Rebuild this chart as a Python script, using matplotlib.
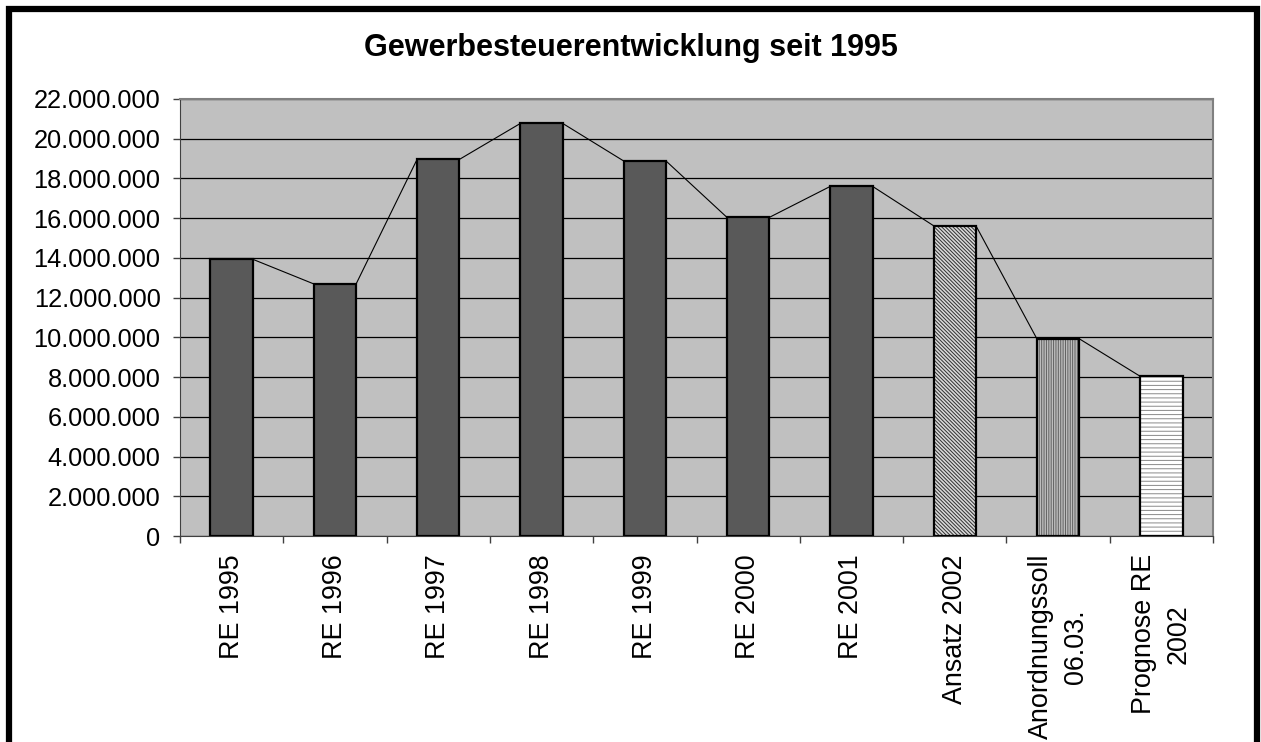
import numpy as np
import matplotlib
matplotlib.use('Agg')
import matplotlib.pyplot as plt
from matplotlib.patches import Rectangle
from matplotlib.ticker import FuncFormatter, MultipleLocator

plt.rcParams['font.family'] = ['Liberation Sans', 'DejaVu Sans']

# data
labels = ['RE 1995', 'RE 1996', 'RE 1997', 'RE 1998', 'RE 1999', 'RE 2000',
          'RE 2001', 'Ansatz 2002', 'Anordnungssoll\n06.03.', 'Prognose RE\n2002']
values = [13930000, 12690000, 18960000, 20770000, 18880000, 16040000,
          17600000, 15620000, 9930000, 8040000]

# fill style per bar: (facecolor, hatch, hatch colour)
styles = [('#595959', None, None)] * 7 + [
    ('#d8d8d8', '\\\\\\\\\\\\\\\\\\', '#303030'),
    ('#bdbdbd', '|||||||', '#606060'),
    ('#ffffff', '----', '#8a8a8a'),
]

fig = plt.figure(figsize=(12.61, 7.42), dpi=100)
ax = fig.add_axes([180 / 1261, 1 - 536 / 742, (1213 - 180) / 1261, (536 - 99) / 742])
ax.set_facecolor('#c0c0c0')

X = np.arange(len(labels))
w = 0.41
plt.rcParams['hatch.linewidth'] = 0.7
for x, v, (fc, hatch, hc) in zip(X, values, styles):
    if hatch:
        ax.bar(x, v, width=w, color=fc, hatch=hatch, edgecolor=hc, linewidth=0, zorder=3)
        ax.bar(x, v, width=w, fill=False, edgecolor='black', linewidth=1.6, zorder=4)
    else:
        ax.bar(x, v, width=w, color=fc, edgecolor='black', linewidth=1.6, zorder=3)

# series lines between bar tops
for i in range(len(values) - 1):
    ax.plot([X[i] + w / 2, X[i + 1] - w / 2], [values[i], values[i + 1]],
            color='black', linewidth=0.8, zorder=2)

ax.set_xlim(-0.5, len(labels) - 0.5)
ax.set_ylim(0, 22000000)
ax.yaxis.set_major_locator(MultipleLocator(2000000))
ax.yaxis.set_major_formatter(FuncFormatter(lambda v, p: f"{int(v):,}".replace(',', '.')))
ax.grid(axis='y', color='black', linewidth=0.9, zorder=1)
ax.set_axisbelow(True)

ax.set_xticks(X)
ax.set_xticklabels(labels, rotation=90, ha='center', va='top', multialignment='center',
                   linespacing=1.45)
ax.set_xticks(np.arange(-0.5, len(labels), 1), minor=True)
ax.tick_params(axis='x', which='major', length=0, pad=13, labelsize=19.4)
ax.tick_params(axis='x', which='minor', length=5, width=1, color='#404040', direction='out')
ax.tick_params(axis='y', length=5, width=1, color='#404040', pad=9, labelsize=18.3)

for s in ['top', 'right']:
    ax.spines[s].set_color('#808080')
    ax.spines[s].set_linewidth(1.5)
ax.spines['left'].set_color('#404040')
ax.spines['bottom'].set_color('#404040')

fig.text(0.5, 1 - 48 / 742, 'Gewerbesteuerentwicklung seit 1995', ha='center', va='center',
         fontsize=22, fontweight='bold')

# outer frame
fig.patches.append(Rectangle((9 / 1261, -0.05), (1257 - 9) / 1261, 1.05 - 9 / 742,
                             transform=fig.transFigure, fill=False, edgecolor='black',
                             linewidth=4.5))

fig.savefig('out.png', dpi=100)
